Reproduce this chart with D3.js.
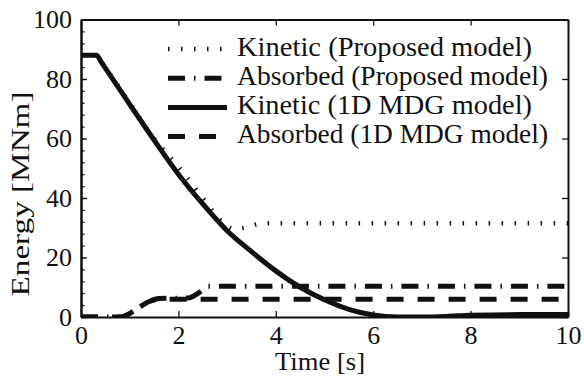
<!DOCTYPE html>
<html>
<head>
<meta charset="utf-8">
<script src="https://cdn.jsdelivr.net/npm/d3@7"></script>
<style>
  body { margin: 0; background: #fff; }
</style>
</head>
<body>
<div id="chart"></div>
<script>
// series (time in s, energy in MNm)
const kinMdgT = [0, 0.32, 0.42, 1, 1.5, 2, 2.5, 3, 3.5, 4, 4.5, 5, 5.5, 6, 6.5, 7, 7.5, 8, 9, 10];
const kinMdgE = [88, 88, 85.6, 71.5, 59.5, 48, 38, 29, 22, 15.5, 10, 5.8, 2.6, 0.7, 0, 0, 0.2, 0.6, 0.8, 0.8];

const kinPropT = [0, 0.32, 0.42, 1, 1.5, 2, 2.5, 2.9, 3.15, 3.4, 3.7, 4, 5, 6, 7, 8, 9, 10];
const kinPropE = [88, 88, 85.8, 72, 60, 50.5, 40, 32, 29.5, 30.2, 31.4, 31.5, 31.5, 31.5, 31.5, 31.5, 31.5, 31.5];

const absPropT = [0, 0.8, 1, 1.2, 1.4, 1.6, 2.2, 2.45, 2.6, 3, 10];
const absPropE = [0, 0, 1.2, 3.3, 5.2, 6.2, 6.4, 8.5, 10.3, 10.3, 10.3];

const absMdgT = [0, 0.8, 1, 1.2, 1.4, 1.6, 3, 10];
const absMdgE = [0, 0, 1.2, 3.3, 5.2, 6, 6, 6];

const xTicks = [0, 2, 4, 6, 8, 10];
const yTicks = [0, 20, 40, 60, 80, 100];
const yMinor = d3.range(0, 101, 4);

const legendLabels = [
  "Kinetic (Proposed model)",
  "Absorbed (Proposed model)",
  "Kinetic (1D MDG model)",
  "Absorbed (1D MDG model)"
];

const W = 584, H = 377;
const pL = 81, pR = 568, pT = 19.5, pB = 317;
const serif = '"Liberation Serif"';

const svg = d3.select('#chart').append('svg')
  .attr('width', W).attr('height', H);

const x = d3.scaleLinear().domain([0, 10]).range([pL, pR]);
const y = d3.scaleLinear().domain([0, 100]).range([pB, pT]);

svg.append('defs').append('clipPath').attr('id', 'clip')
  .append('rect')
  .attr('x', pL).attr('y', pT)
  .attr('width', pR - pL).attr('height', pB - pT);

// line styles
const styles = [
  { dash: '1.5 11.5', width: 4.5 },      // kinetic proposed, dotted
  { dash: '17 9 1.5 9', width: 5 },      // absorbed proposed, dash-dot
  { dash: null, width: 5 },              // kinetic mdg, solid
  { dash: '17 14', width: 5 }            // absorbed mdg, dashed
];

const series = [
  { t: kinPropT, e: kinPropE, s: styles[0] },
  { t: absPropT, e: absPropE, s: styles[1] },
  { t: absMdgT, e: absMdgE, s: styles[3] },
  { t: kinMdgT, e: kinMdgE, s: styles[2] }
];

const line = d3.line()
  .x(d => x(d[0]))
  .y(d => y(d[1]))
  .curve(d3.curveMonotoneX);

const plot = svg.append('g').attr('clip-path', 'url(#clip)');

series.forEach(sr => {
  const pts = sr.t.map((t, i) => [t, sr.e[i]]);
  plot.append('path')
    .attr('d', line(pts))
    .style('fill', 'none')
    .style('stroke', '#111')
    .style('stroke-width', sr.s.width)
    .style('stroke-dasharray', sr.s.dash);
});

// axes, ticks pointing inward
const gx = svg.append('g').attr('transform', `translate(0,${pB})`)
  .call(d3.axisBottom(x).tickValues(xTicks).tickSizeInner(-6).tickSizeOuter(0).tickPadding(9));
const gy = svg.append('g').attr('transform', `translate(${pL},0)`)
  .call(d3.axisLeft(y).tickValues(yTicks).tickSizeInner(-6).tickSizeOuter(0).tickPadding(9));
svg.append('g').attr('transform', `translate(${pL},0)`)
  .call(d3.axisLeft(y).tickValues(yMinor).tickSizeInner(-3.5).tickSizeOuter(0).tickFormat(''));
svg.append('g').attr('transform', `translate(0,${pT})`)
  .call(d3.axisTop(x).tickValues(xTicks).tickSizeInner(-6).tickSizeOuter(0).tickFormat(''));
svg.append('g').attr('transform', `translate(${pR},0)`)
  .call(d3.axisRight(y).tickValues(yTicks).tickSizeInner(-6).tickSizeOuter(0).tickFormat(''));

svg.selectAll('g').attr('font-family', null).attr('font-size', null);
svg.selectAll('.domain').style('stroke', '#111').style('stroke-width', 2);
svg.selectAll('.tick line').style('stroke', '#111').style('stroke-width', 1.3);
svg.selectAll('.tick text')
  .style('font-family', serif)
  .style('font-size', '26px')
  .style('fill', '#111');
gx.selectAll('.tick text').attr('dy', '0.71em');

// axis titles
svg.append('text')
  .attr('x', 320).attr('y', 370)
  .attr('text-anchor', 'middle')
  .attr('textLength', 90).attr('lengthAdjust', 'spacingAndGlyphs')
  .style('font-family', serif)
  .style('font-size', '26px')
  .style('fill', '#111')
  .text('Time [s]');

svg.append('text')
  .attr('transform', 'translate(28.5,194) rotate(-90)')
  .attr('text-anchor', 'middle')
  .attr('textLength', 205).attr('lengthAdjust', 'spacingAndGlyphs')
  .style('font-family', serif)
  .style('font-size', '26px')
  .style('fill', '#111')
  .text('Energy [MNm]');

// legend
const legY = [49, 78.2, 107.4, 136.6];
const leg = svg.append('g');
legendLabels.forEach((lab, i) => {
  leg.append('line')
    .attr('x1', 168).attr('x2', 227)
    .attr('y1', legY[i]).attr('y2', legY[i])
    .style('stroke', '#111')
    .style('stroke-width', styles[i].width)
    .style('stroke-dasharray', styles[i].dash);
  leg.append('text')
    .attr('x', 237).attr('y', legY[i] + 6.5)
    .attr('textLength', i % 2 ? 311 : 295).attr('lengthAdjust', 'spacingAndGlyphs')
    .style('font-family', serif)
    .style('font-size', '26.5px')
    .style('fill', '#111')
    .text(lab);
});
</script>
</body>
</html>
